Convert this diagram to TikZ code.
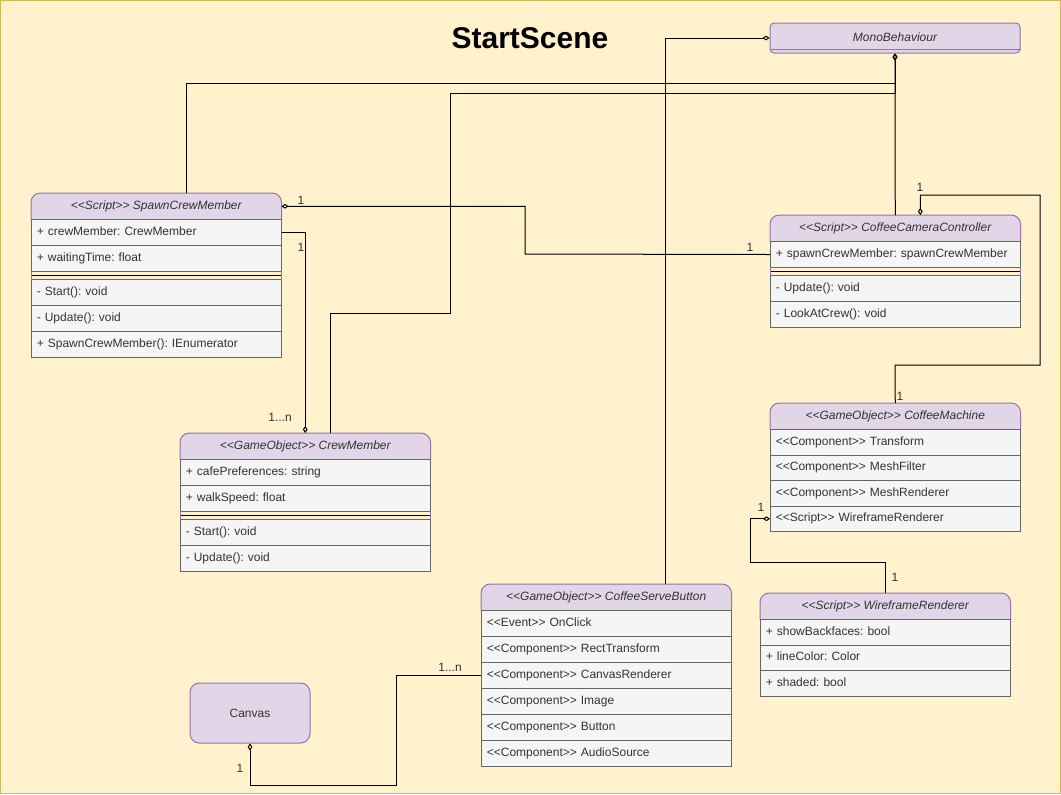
\documentclass[tikz,border=0pt]{standalone}
\usepackage{fontspec}
\setmainfont{Liberation Sans}[Ligatures=TeXOff]
\usetikzlibrary{arrows.meta,calc,backgrounds}
\frenchspacing
\definecolor{bgF}{HTML}{FFF2CC}
\definecolor{bgS}{HTML}{D6B656}
\definecolor{hdrF}{HTML}{E1D5E7}
\definecolor{hdrS}{HTML}{9673A6}
\definecolor{rowF}{HTML}{F5F5F5}
\definecolor{rowS}{HTML}{666666}
\definecolor{txt}{HTML}{333333}
\newcommand\classhead[1]{%
  \fill[hdrF,rounded corners=7pt] (#1.north west) rectangle (#1.south east);
  \fill[hdrF] (#1.west) rectangle (#1.south east);
  \draw[hdrS,line width=.75pt,rounded corners=7pt] (#1.south west) -- (#1.north west) -- (#1.north east) -- (#1.south east);}
\newcommand\sepline[1]{%
  \draw[black,line width=.75pt] (#1.west) -- (#1.east);
  \draw[hdrS,line width=.75pt] (#1.north west) -- (#1.south west) (#1.north east) -- (#1.south east);}
\begin{document}
\frenchspacing
\begin{tikzpicture}[x=0.75pt,y=-0.75pt,
  boxfont/.style={font=\fontsize{9}{11}\selectfont},
  hdr/.style={boxfont,minimum width=187.5pt,minimum height=19.5pt,inner sep=0pt,anchor=north west,text=txt,font=\fontsize{9}{11}\selectfont\itshape},
  row/.style={boxfont,draw=rowS,fill=rowF,line width=.75pt,minimum width=187.5pt,minimum height=19.5pt,inner xsep=4pt,inner ysep=0pt,text width=179.5pt,align=left,anchor=north west,text=txt,text height=6.6pt,text depth=1.9pt},
  rowb/.style={minimum height=19.125pt},
  sepbox/.style={minimum width=187.5pt,minimum height=6pt,inner sep=0pt,anchor=north west},
  conn/.style={draw=black,line width=.75pt},
  agg/.style={conn,-{Diamond[open,length=5.25pt,width=3.6pt]}},
  gga/.style={conn,{Diamond[open,length=5.25pt,width=3.6pt]}-},
  lbl/.style={boxfont,text=txt,inner sep=0pt}]
\useasboundingbox (0,0) rectangle (1061,794);

\node[font=\fontsize{22.5}{27}\selectfont\bfseries,text=black] (title) at (530,38) {StartScene};

% MonoBehaviour
\node[draw=hdrS,fill=hdrF,line width=.75pt,rounded corners=3pt,minimum width=187.5pt,minimum height=22.5pt,inner sep=0pt,text=txt,font=\fontsize{9}{11}\selectfont\itshape] (mono) at (895,38) {\raisebox{1.5pt}{MonoBehaviour}};
\draw[hdrS,line width=.75pt] ($(mono.south west)+(0,-4)$) -- ($(mono.south east)+(0,-4)$);

% SpawnCrewMember
\node[hdr] (scmh) at (31,193) {<<Script>> SpawnCrewMember};
\node[row] (scm1) at (31,219) {+ crewMember: CrewMember};
\node[row] (scm2) at (31,245) {+ waitingTime: float};
\node[sepbox] (scms) at (31,271) {};
\node[row] (scm3) at (31,279) {- Start(): void};
\node[row] (scm4) at (31,305) {- Update(): void};
\node[row] (scm5) at (31,331) {+ SpawnCrewMember(): IEnumerator};
\sepline{scms}

% CoffeeCameraController
\node[hdr] (ccch) at (770,215) {<<Script>> CoffeeCameraController};
\node[row] (ccc1) at (770,241) {+ spawnCrewMember: spawnCrewMember};
\node[sepbox] (cccs) at (770,267) {};
\node[row] (ccc2) at (770,275) {- Update(): void};
\node[row] (ccc3) at (770,301) {- LookAtCrew(): void};
\sepline{cccs}

% CrewMember
\node[hdr] (cmh) at (180,433) {<<GameObject>> CrewMember};
\node[row] (cm1) at (180,459) {+ cafePreferences: string};
\node[row] (cm2) at (180,485) {+ walkSpeed: float};
\node[sepbox] (cms) at (180,511) {};
\node[row] (cm3) at (180,519) {- Start(): void};
\node[row] (cm4) at (180,545) {- Update(): void};
\sepline{cms}

% CoffeeMachine
\node[hdr] (cmah) at (770,403) {<<GameObject>> CoffeeMachine};
\node[row,rowb] (cma1) at (770,429) {<<Component>> Transform};
\node[row,rowb] (cma2) at (770,454.5) {<<Component>> MeshFilter};
\node[row,rowb] (cma3) at (770,480) {<<Component>> MeshRenderer};
\node[row,rowb] (cma4) at (770,505.5) {<<Script>> WireframeRenderer};

% WireframeRenderer
\node[hdr] (wrh) at (760,593) {<<Script>> WireframeRenderer};
\node[row,rowb] (wr1) at (760,619) {+ showBackfaces: bool};
\node[row,rowb] (wr2) at (760,644.5) {+ lineColor: Color};
\node[row,rowb] (wr3) at (760,670) {+ shaded: bool};

% CoffeeServeButton
\node[hdr] (csbh) at (481,584) {<<GameObject>> CoffeeServeButton};
\node[row] (csb1) at (481,610) {<<Event>> OnClick};
\node[row] (csb2) at (481,636) {<<Component>> RectTransform};
\node[row] (csb3) at (481,662) {<<Component>> CanvasRenderer};
\node[row] (csb4) at (481,688) {<<Component>> Image};
\node[row] (csb5) at (481,714) {<<Component>> Button};
\node[row] (csb6) at (481,740) {<<Component>> AudioSource};

% Canvas
\node[boxfont,draw=hdrS,fill=hdrF,line width=.75pt,rounded corners=7pt,minimum width=90pt,minimum height=45pt,text=txt] (canvas) at (250,713) {Canvas};

% connectors
\draw[agg] ($(csbh.north west)!.736!(csbh.north east)$) |- (mono.west);
\draw[agg] (ccch.north) -- (mono.south);
\draw[agg] ($(scmh.north west)!.62!(scmh.north east)$) |- (895,83) -- (mono.south);
\draw[agg] ($(cmh.north west)!.6!(cmh.north east)$) |- (450,313) |- (895,93) -- (mono.south);
\draw[gga] (scmh.east) -| (525,254) -- (ccc1.west);
\draw[agg] (scm1.east) -| (cmh.north);
\draw[gga] ($(ccch.north west)!.6!(ccch.north east)$) |- (1040,195) |- (895,365) -- (cmah.north);
\draw[gga] (cma4.west) -| (750,562) -| (wrh.north);
\draw[gga] (canvas.south) |- (396,785) |- (csb3.west);

% multiplicities
\node[lbl] (l1) at (301,200) {1};
\node[lbl] (l2) at (301,247) {1};
\node[lbl] (l3) at (280,417) {1...n};
\node[lbl] (l4) at (750,247) {1};
\node[lbl] (l5) at (920,187) {1};
\node[lbl] (l6) at (900,396) {1};
\node[lbl] (l7) at (761,507) {1};
\node[lbl] (l8) at (895,577) {1};
\node[lbl] (l9) at (240,768) {1};
\node[lbl] (l10) at (450,667) {1...n};

\begin{scope}[on background layer]
\fill[bgF] (0,0) rectangle (1061,794);
\draw[bgS,line width=.75pt] (0.5,0.5) rectangle (1060.5,793.5);
\classhead{scmh}
\classhead{ccch}
\classhead{cmh}
\classhead{cmah}
\classhead{wrh}
\classhead{csbh}
\end{scope}
\end{tikzpicture}
\end{document}
